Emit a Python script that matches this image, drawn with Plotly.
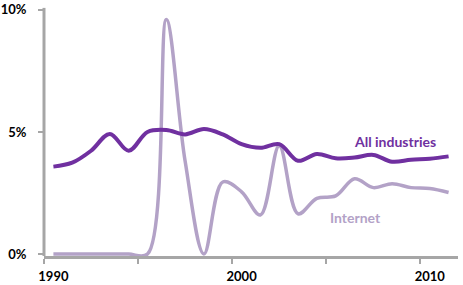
import plotly.graph_objects as go

years = list(range(1990, 2012))
all_industries = [3.58, 3.74, 4.23, 4.92, 4.23, 5.0, 5.08, 4.9, 5.12, 4.9, 4.5, 4.35, 4.5, 3.82,
                  4.1, 3.92, 3.95, 4.06, 3.78, 3.86, 3.9, 4.0]
internet = [0, 0, 0, 0, 0, 0, 9.6, 3.8, 0, 2.95, 2.55, 1.6, 4.43, 1.65,
            2.28, 2.38, 3.08, 2.72, 2.88, 2.72, 2.68, 2.52]

y_ticks = [0, 5, 10]
y_labels = ["0%", "5%", "10%"]
x_label_years = [1990, 2000, 2010]
x_minor_ticks = [1989.5, 1994.5, 1999.5, 2004.5, 2009.5]

dark = "#7030A0"
light = "#B3A2C7"
axis_gray = "#A6A6A6"
font_family = "Lato"

fig = go.Figure()
fig.add_trace(go.Scatter(x=years, y=internet, mode="lines",
                         line=dict(color=light, width=3.5, shape="spline", smoothing=1.0),
                         hoverinfo="skip", showlegend=False))
fig.add_trace(go.Scatter(x=years, y=all_industries, mode="lines",
                         line=dict(color=dark, width=4, shape="spline", smoothing=1.0),
                         hoverinfo="skip", showlegend=False))

fig.add_annotation(x=2008.13, y=4.59, text="<b>All industries</b>", showarrow=False,
                   font=dict(family=font_family, size=14, color=dark))
fig.add_annotation(x=2006.04, y=1.5, text="<b>Internet</b>", showarrow=False,
                   font=dict(family=font_family, size=14, color=light))

fig.update_layout(
    width=463, height=285,
    margin=dict(l=41, r=5, t=1, b=29),
    plot_bgcolor="white", paper_bgcolor="white",
    font=dict(family=font_family, size=13, color="black"),
    xaxis=dict(range=[1989.5, 2011.5], showgrid=False, zeroline=False,
               showline=True, linecolor=axis_gray, linewidth=3,
               tickvals=x_label_years, ticktext=[f"<b>{y}</b>" for y in x_label_years],
               ticks="outside", ticklen=6, tickcolor="rgba(0,0,0,0)",
               minor=dict(tickvals=x_minor_ticks, ticks="outside", ticklen=5,
                          tickwidth=2, tickcolor=axis_gray, showgrid=False),
               layer="below traces", fixedrange=True),
    yaxis=dict(range=[-0.08, 10.28], showgrid=False, zeroline=False,
               showline=False,
               tickvals=y_ticks, ticktext=[f"<b>{t}</b>" for t in y_labels],
               ticks="outside", ticklen=14, tickcolor="rgba(0,0,0,0)",
               ticklabeloverflow="allow",
               minor=dict(tickvals=y_ticks, ticks="outside", ticklen=5,
                          tickwidth=2, tickcolor=axis_gray, showgrid=False),
               layer="below traces", fixedrange=True),
    shapes=[dict(type="line", xref="paper", yref="y", x0=0, x1=0, y0=-0.08, y1=10.08,
                 line=dict(color=axis_gray, width=3), layer="below")],
)

fig.write_html("out.html")
